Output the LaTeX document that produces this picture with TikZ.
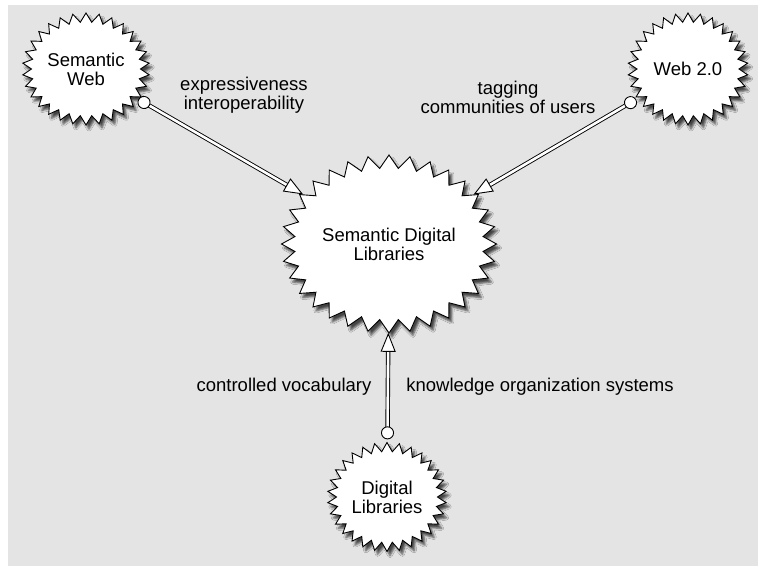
\documentclass[tikz,border=0pt]{standalone}
\usepackage{fontspec}
\setmainfont{Liberation Sans}
\usetikzlibrary{positioning,arrows.meta,shapes.symbols,shadows.blur}
\definecolor{bggray}{HTML}{E4E4E4}
\tikzset{
  burst/.style={starburst, draw=black, fill=white, line width=0.9pt,
                starburst points=30, starburst point height=9pt, random starburst=0,
                minimum width=123pt, minimum height=112pt, inner sep=0pt,
                align=center, font=\fontsize{18.5}{19}\selectfont,
                blur shadow={shadow xshift=3pt, shadow yshift=-4pt, shadow opacity=70}},
  bigburst/.style={burst, starburst points=32, starburst point height=13pt,
                minimum width=202pt, minimum height=178pt},
  link/.style={double=white, double distance=2.6pt, line width=0.9pt,
               {Circle[open, length=13pt, width=13pt, fill=white]}-{Triangle[open, length=19pt, width=15pt, fill=white]}},
  lbl/.style={align=center, font=\fontsize{18.5}{19}\selectfont},
}

\begin{document}
\begin{tikzpicture}[x=1pt, y=-1pt]
  \fill[white] (0,0) rectangle (758,566);
  \fill[bggray] (8,5) rectangle (758,566);

  \node[bigburst] (sdl) at (389,244) {Semantic Digital\\Libraries};
  \node[burst] (sw) at (86,69) {Semantic\\Web};
  \node[burst, minimum width=120pt] (web) at (688,69) {Web 2.0};
  \node[burst, minimum width=119pt, minimum height=109pt] (dl) at (387,497) {Digital\\Libraries};

  \node[lbl] (lexp) at (244,95) {expressiveness\\interoperability};
  \node[lbl] (ltag) at (508,97) {tagging\\communities of users};
  \node[lbl] (lvoc) at (284,387) {controlled vocabulary};
  \node[lbl] (lkos) at (540,387) {knowledge organization systems};

  \draw[link, shorten <=4pt] (sw) -- (sdl);
  \draw[link, shorten <=4pt] (web) -- (sdl);
  \draw[link, shorten <=3pt] (dl) -- (sdl);
\end{tikzpicture}
\end{document}
